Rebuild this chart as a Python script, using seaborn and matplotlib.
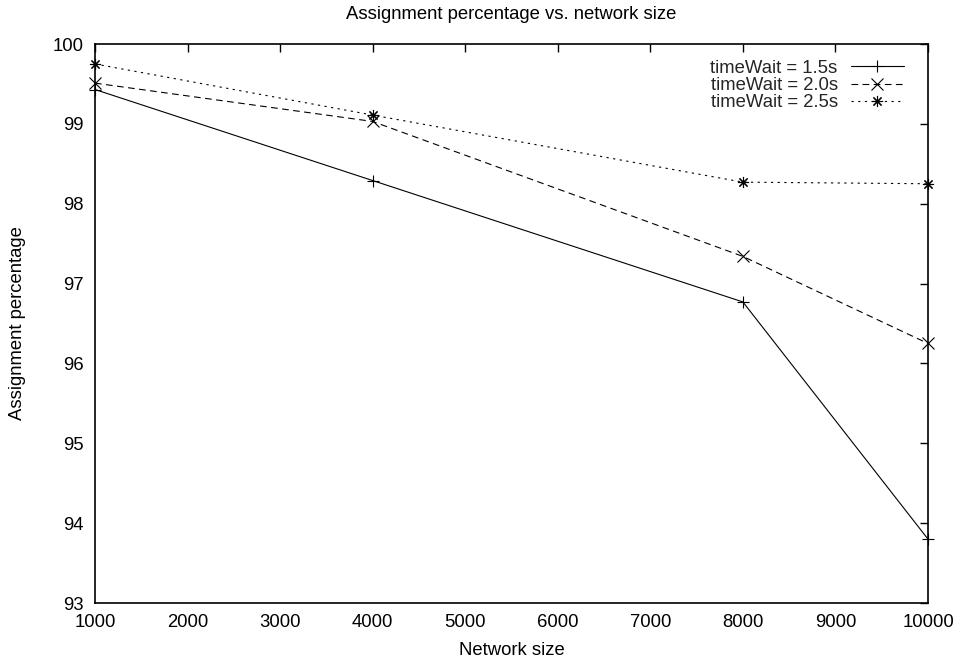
import matplotlib
matplotlib.use("Agg")
import matplotlib.pyplot as plt
import seaborn as sns
import pandas as pd

network_size = [1000, 4000, 8000, 10000]
series_names = ["timeWait = 1.5s", "timeWait = 2.0s", "timeWait = 2.5s"]
wait_15 = [99.43, 98.29, 96.77, 93.80]
wait_20 = [99.51, 99.03, 97.34, 96.25]
wait_25 = [99.75, 99.11, 98.27, 98.25]
x_ticks = [1000, 2000, 3000, 4000, 5000, 6000, 7000, 8000, 9000, 10000]
y_ticks = [93, 94, 95, 96, 97, 98, 99, 100]

rows = []
for name, vals in zip(series_names, [wait_15, wait_20, wait_25]):
    for x, y in zip(network_size, vals):
        rows.append({"Network size": x, "Assignment percentage": y, "series": name})
df = pd.DataFrame(rows)

FS = 13.3
sns.set_theme(style="white")
plt.rcParams["font.family"] = ["Liberation Sans", "DejaVu Sans"]
plt.rcParams["font.size"] = FS

fig = plt.figure(figsize=(9.61, 6.66), dpi=100)
ax = fig.add_axes([95 / 961, 63 / 666, (928 - 95) / 961, (603 - 44) / 666])

dashes = {series_names[0]: "", series_names[1]: (6, 4), series_names[2]: (2, 4)}
markers = {series_names[0]: "+", series_names[1]: "x", series_names[2]: (8, 2, 0)}
palette = {n: "black" for n in series_names}

sns.lineplot(data=df, x="Network size", y="Assignment percentage", hue="series",
             style="series", dashes=dashes, markers=markers, palette=palette,
             linewidth=0.8, markersize=8, markeredgewidth=0.8,
             markeredgecolor="black", ax=ax, clip_on=False,
             hue_order=series_names, style_order=series_names)

ax.set_xlim(1000, 10000)
ax.set_ylim(93, 100)
ax.set_xticks(x_ticks)
ax.set_yticks(y_ticks)
ax.tick_params(direction="in", length=6, width=1.0, top=True, right=True,
               labelsize=FS, colors="black", pad=8)
for s in ax.spines.values():
    s.set_visible(True)
    s.set_color("black")
    s.set_linewidth(1.2)
ax.grid(False)
ax.set_xlabel("Network size", fontsize=FS, color="black", labelpad=8)
ax.set_ylabel("Assignment percentage", fontsize=FS, color="black", labelpad=19)
ax.set_title("Assignment percentage vs. network size", fontsize=FS, color="black", pad=18)

handles, labels = ax.get_legend_handles_labels()
for h in handles:
    h.set_markeredgecolor("black")
ax.legend(handles, labels, loc="upper right", bbox_to_anchor=(0.987, 0.995),
          markerfirst=False, frameon=False, fontsize=FS, handlelength=2.9,
          handletextpad=0.7, labelspacing=0.02, borderaxespad=0.3)

fig.savefig("out.png", dpi=100)
